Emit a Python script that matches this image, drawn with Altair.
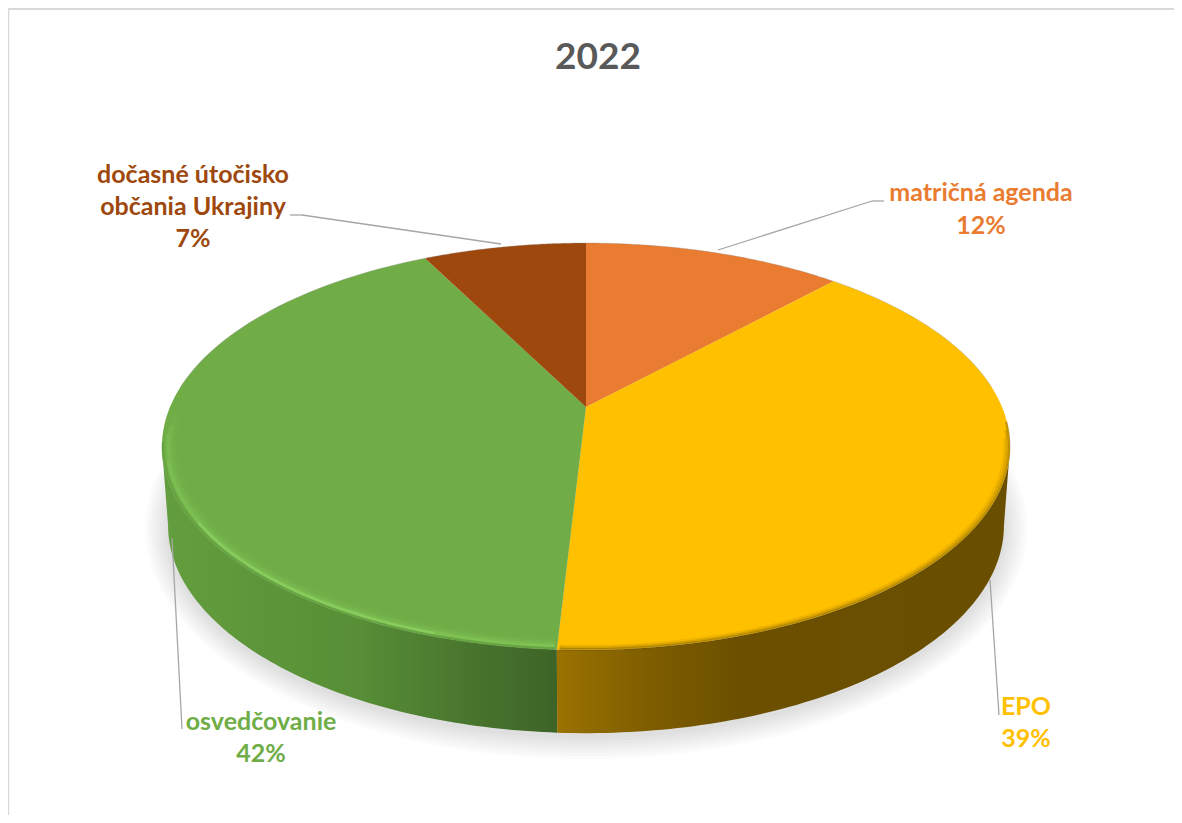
import math
import altair as alt
import pandas as pd

categories = ["matričná agenda", "EPO", "osvedčovanie", "dočasné útočisko občania Ukrajiny"]
shares = [11.9, 39.0, 41.6, 7.5]
percent_labels = ["12%", "39%", "42%", "7%"]
colors = ["#E97C30", "#FFC000", "#70AD47", "#9E480E"]

W, H = 1166, 807
K = 0.194


def top(u, v):
    w = 1 - K * v
    return 586 + 416 * u / w, 407 + 195.8 * v / w


def bottom(u, v):
    w = 1 - K * v
    return 586 + 410 * u / w, 485 + 200 * v / w


def at(theta, r=1.0):
    return r * math.sin(theta), -r * math.cos(theta)


def arc(a, b, r=1.0, fn=top, n=90):
    return [fn(*at(a + (b - a) * i / n, r)) for i in range(n + 1)]


def frame(pts):
    return pd.DataFrame({"x": [p[0] for p in pts], "y": [p[1] for p in pts], "i": range(len(pts))})


X = alt.X("x:Q", scale=alt.Scale(domain=[8, 8 + W], range=[0, W]), axis=None)
Y = alt.Y("y:Q", scale=alt.Scale(domain=[8, 8 + H], range=[0, H]), axis=None)


def poly(pts, **mark):
    return alt.Chart(frame(pts)).mark_line(strokeWidth=0, **mark).encode(x=X, y=Y, order="i:Q")


def stroke(pts, color, width, opacity):
    return alt.Chart(frame(pts)).mark_line(
        stroke=color, strokeWidth=width, opacity=opacity, strokeCap="butt"
    ).encode(x=X, y=Y, order="i:Q")


cum = [0]
for s in shares:
    cum.append(cum[-1] + s)
ang = [c / 100 * 2 * math.pi for c in cum]

layers = []

# soft ground shadow under the disc
for e in range(2, 26, 3):
    pts = []
    for i in range(181):
        t = 2 * math.pi * i / 180
        x, y = bottom(*at(t))
        pts.append((586 + (x - 586) * (1 + e / 416), 525 + (y - 525) * (1 + e / 208) + 3))
    layers.append(poly(pts, fill="#000000", fillOpacity=0.014))

# side walls of the front half
east = math.asin(K) + math.pi / 2
west = 2 * math.pi - east
green_grad = alt.Gradient(
    gradient="linear", x1=0, x2=1, y1=0, y2=0,
    stops=[
        alt.GradientStop(offset=0, color="#639E3E"),
        alt.GradientStop(offset=0.5, color="#578E36"),
        alt.GradientStop(offset=0.8, color="#47732D"),
        alt.GradientStop(offset=1, color="#3D6427"),
    ],
)
yellow_grad = alt.Gradient(
    gradient="linear", x1=0, x2=1, y1=0, y2=0,
    stops=[
        alt.GradientStop(offset=0, color="#9A7200"),
        alt.GradientStop(offset=0.2, color="#7F5E00"),
        alt.GradientStop(offset=0.4, color="#6C5000"),
        alt.GradientStop(offset=1, color="#6A4E00"),
    ],
)
layers.append(poly(arc(ang[2], west) + arc(west, ang[2], fn=bottom), fill=green_grad))
layers.append(poly(arc(east, ang[2]) + arc(ang[2], east, fn=bottom), fill=yellow_grad))

# top faces
for k, c in enumerate(colors):
    layers.append(poly([top(0, 0)] + arc(ang[k], ang[k + 1]) + [top(0, 0)], fill=c, stroke=c))

# far rim hairline
layers.append(stroke(arc(west + 0.3, 2 * math.pi) + arc(0, east - 0.3), "#8a8a8a", 1, 0.3))

# bevel on the near rim: green catches the light
g_start = ang[2] + 0.005
for end, r, w, op in [
    (west + 0.14, 0.976, 9, 0.07),
    (west + 0.10, 0.982, 6, 0.12),
    (west + 0.06, 0.987, 4, 0.20),
    (west - 0.08, 0.990, 2.5, 0.22),
]:
    layers.append(stroke(arc(g_start, end, r), "#93DB66", w, op))
layers.append(stroke(arc(ang[2] + 0.25, ang[2] + 0.95, 0.990), "#A2E878", 3, 0.30))
layers.append(stroke(arc(g_start, west + 0.02, 0.998), "#5F9A3C", 2.5, 0.55))

# bevel on the near rim: yellow falls into shade
for start, r, w, op in [
    (east - 0.12, 0.998, 2.5, 0.30),
    (east - 0.08, 0.993, 2.5, 0.16),
    (east - 0.04, 0.988, 3, 0.08),
]:
    layers.append(stroke(arc(start, ang[2] - 0.005, r), "#3D2E00", w, op))


# frame and leader lines, placed in pixels of the view
def rule_seg(x1, y1, x2, y2, color="#A6A6A6", width=1.3):
    return alt.Chart(pd.DataFrame({"a": [0]})).mark_rule(color=color, strokeWidth=width).encode(
        x=alt.value(x1 - 8), y=alt.value(y1 - 8), x2=alt.value(x2 - 8), y2=alt.value(y2 - 8)
    )


for seg in [
    (290, 215, 302, 215), (302, 215, 501, 244),
    (718, 250, 872, 201), (872, 201, 884, 201),
    (172, 538, 182, 729), (990, 580, 999, 715),
]:
    layers.append(rule_seg(*seg))
layers.append(rule_seg(8.5, 8, 8.5, 815, "#D9D9D9", 1.5))
layers.append(rule_seg(8, 9, 1174, 9, "#D9D9D9", 2))


def label(text, x, y, color, size=25):
    return alt.Chart(pd.DataFrame({"t": [text]})).mark_text(
        font="Lato", fontWeight="bold", fontSize=size, color=color, align="center", baseline="middle"
    ).encode(text="t:N", x=alt.value(x - 8), y=alt.value(y - 8))


layers += [
    label(categories[0], 981, 193, colors[0]),
    label(percent_labels[0], 981, 226, colors[0]),
    label(categories[1], 1026, 707, colors[1]),
    label(percent_labels[1], 1026, 739, colors[1]),
    label(categories[2], 261, 722, colors[2]),
    label(percent_labels[2], 261, 754, colors[2]),
    label("dočasné útočisko", 193, 175, colors[3]),
    label("občania Ukrajiny", 193, 207, colors[3]),
    label(percent_labels[3], 193, 239, colors[3]),
]

chart = alt.layer(*layers).properties(
    width=W, height=H, padding=0, autosize=alt.AutoSizeParams(type="none"),
    title=alt.TitleParams(
        "2022", font="Lato", fontSize=37, fontWeight="bold", color="#595959",
        anchor="middle", offset=-70, dx=7,
    ),
).configure_view(stroke=None)

chart.save("out.html", embed_options={"renderer": "svg", "actions": False})
